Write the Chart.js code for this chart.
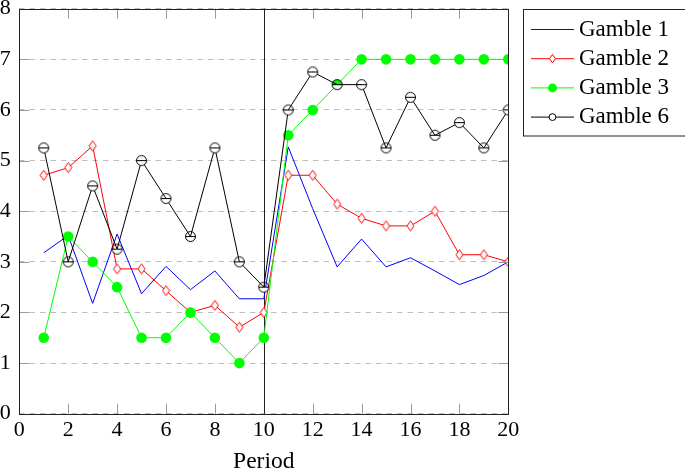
<!doctype html>
<html lang="en">
<head>
<meta charset="utf-8">
<title>Gambles by period</title>
<script src="https://cdn.jsdelivr.net/npm/chart.js@4.4.1/dist/chart.umd.min.js"></script>
<style>
  body { margin: 0; background: #fff; }
  #wrap { width: 685px; height: 470px; }
</style>
</head>
<body>
<div id="wrap"><canvas id="myChart" width="685" height="470"></canvas></div>
<script>
// periods on the x axis
const periods = [1, 2, 3, 4, 5, 6, 7, 8, 9, 10, 11, 12, 13, 14, 15, 16, 17, 18, 19, 20];

// series values
const gamble1 = [3.18, 3.52, 2.18, 3.55, 2.37, 2.91, 2.45, 2.82, 2.27, 2.27, 5.27, 4.05, 2.9, 3.45, 2.9, 3.08, 2.82, 2.55, 2.73, 3.0];
const gamble2 = [4.71, 4.86, 5.29, 2.86, 2.86, 2.43, 2.0, 2.14, 1.71, 2.0, 4.71, 4.71, 4.14, 3.86, 3.71, 3.71, 4.0, 3.14, 3.14, 3.0];
const gamble3 = [1.5, 3.5, 3.0, 2.5, 1.5, 1.5, 2.0, 1.5, 1.0, 1.5, 5.5, 6.0, 6.5, 7.0, 7.0, 7.0, 7.0, 7.0, 7.0, 7.0];
const gamble6 = [5.25, 3.0, 4.5, 3.25, 5.0, 4.25, 3.5, 5.25, 3.0, 2.5, 6.0, 6.75, 6.5, 6.5, 5.25, 6.25, 5.5, 5.75, 5.25, 6.0];

const seriesNames = ['Gamble 1', 'Gamble 2', 'Gamble 3', 'Gamble 6'];
const seriesColors = ['#0000ff', '#ff0000', '#00ff00', '#000000'];
const xTicks = [0, 2, 4, 6, 8, 10, 12, 14, 16, 18, 20];
const yTicks = [0, 1, 2, 3, 4, 5, 6, 7, 8];
const splitPeriod = 10;

const serif = "'Liberation Serif', 'DejaVu Serif', serif";

const toPoints = (vals) => vals.map((v, i) => ({ x: periods[i], y: v }));

// marker shapes
const drawMark = (ctx, kind, x, y, s) => {
  ctx.save();
  ctx.lineWidth = 1;
  if (kind === 'diamond') {
    ctx.beginPath();
    ctx.moveTo(x, y - 5 * s);
    ctx.lineTo(x + 3.5 * s, y);
    ctx.lineTo(x, y + 5 * s);
    ctx.lineTo(x - 3.5 * s, y);
    ctx.closePath();
    ctx.fillStyle = '#fff';
    ctx.fill();
    ctx.strokeStyle = '#ff0000';
    ctx.stroke();
  } else if (kind === 'dot') {
    ctx.beginPath();
    ctx.arc(x, y, 5.3 * s, 0, Math.PI * 2);
    ctx.fillStyle = '#00ff00';
    ctx.fill();
  } else if (kind === 'half') {
    const r = 5 * s;
    ctx.beginPath();
    ctx.arc(x, y, r, 0, Math.PI);
    ctx.closePath();
    ctx.fillStyle = '#fff';
    ctx.fill();
    ctx.beginPath();
    ctx.arc(x, y, r, 0, Math.PI * 2);
    ctx.moveTo(x - r, y);
    ctx.lineTo(x + r, y);
    ctx.strokeStyle = '#000';
    ctx.stroke();
  } else if (kind === 'circle') {
    ctx.beginPath();
    ctx.arc(x, y, 4 * s, 0, Math.PI * 2);
    ctx.fillStyle = '#fff';
    ctx.fill();
    ctx.strokeStyle = '#000';
    ctx.stroke();
  }
  ctx.restore();
};

const markImage = (kind, w, h) => {
  const c = document.createElement('canvas');
  c.width = w; c.height = h;
  drawMark(c.getContext('2d'), kind, w / 2, h / 2, 1);
  return c;
};

const diamondImg = markImage('diamond', 9, 13);
const halfImg = markImage('half', 13, 13);

// legend with a frame, drawn on the right
const legendKinds = [null, 'diamond', 'dot', 'circle'];
const boxLegend = {
  id: 'boxLegend',
  afterDraw(chart) {
    const ctx = chart.ctx;
    ctx.save();
    ctx.lineWidth = 1;
    ctx.strokeStyle = '#222';
    ctx.strokeRect(523.5, 9.5, 170, 126.5);
    chart.data.datasets.forEach((ds, i) => {
      const ly = 29.5 + i * 29.2;
      ctx.strokeStyle = seriesColors[i];
      ctx.beginPath();
      ctx.moveTo(531, ly);
      ctx.lineTo(574, ly);
      ctx.stroke();
      if (legendKinds[i]) drawMark(ctx, legendKinds[i], 552.5, ly, 0.85);
      ctx.fillStyle = '#000';
      ctx.font = '23px ' + serif;
      ctx.textBaseline = 'alphabetic';
      ctx.textAlign = 'left';
      ctx.fillText(ds.label, 579, ly + 6);
    });
    ctx.restore();
  }
};

// vertical line at the regime change, under the data
const splitLine = {
  id: 'splitLine',
  beforeDatasetsDraw(chart) {
    const { ctx, chartArea, scales } = chart;
    const px = Math.round(scales.x.getPixelForValue(splitPeriod)) + 0.5;
    ctx.save();
    ctx.strokeStyle = '#222';
    ctx.lineWidth = 1;
    ctx.beginPath();
    ctx.moveTo(px, chartArea.top);
    ctx.lineTo(px, chartArea.bottom);
    ctx.stroke();
    ctx.restore();
  }
};

// frame and inward tick marks, on top of the data
const frameTicks = {
  id: 'frameTicks',
  afterDatasetsDraw(chart) {
    const { ctx, chartArea: a, scales } = chart;
    ctx.save();
    ctx.lineWidth = 1;
    ctx.strokeStyle = '#9a9a9a';
    ctx.beginPath();
    xTicks.forEach(v => {
      if (v === splitPeriod) return;
      const px = Math.round(scales.x.getPixelForValue(v)) + 0.5;
      ctx.moveTo(px, a.bottom); ctx.lineTo(px, a.bottom - 10);
      ctx.moveTo(px, a.top); ctx.lineTo(px, a.top + 10);
    });
    yTicks.forEach(v => {
      const py = Math.round(scales.y.getPixelForValue(v)) + 0.5;
      ctx.moveTo(a.left, py); ctx.lineTo(a.left + 10, py);
      ctx.moveTo(a.right, py); ctx.lineTo(a.right - 10, py);
    });
    ctx.stroke();
    ctx.strokeStyle = '#222';
    ctx.strokeRect(Math.round(a.left) + 0.5, Math.round(a.top) + 0.5,
      Math.round(a.right) - Math.round(a.left), Math.round(a.bottom) - Math.round(a.top));
    ctx.restore();
  }
};

new Chart(document.getElementById('myChart'), {
  type: 'line',
  data: {
    datasets: [
      {
        label: seriesNames[0], data: toPoints(gamble1), order: 4,
        borderColor: seriesColors[0], borderWidth: 1, pointRadius: 0
      },
      {
        label: seriesNames[1], data: toPoints(gamble2), order: 3,
        borderColor: seriesColors[1], borderWidth: 1, pointStyle: diamondImg
      },
      {
        label: seriesNames[2], data: toPoints(gamble3), order: 2,
        borderColor: seriesColors[2], borderWidth: 1, pointStyle: 'circle',
        pointRadius: 5.3, pointBackgroundColor: seriesColors[2], pointBorderWidth: 0
      },
      {
        label: seriesNames[3], data: toPoints(gamble6), order: 1,
        borderColor: seriesColors[3], borderWidth: 1, pointStyle: halfImg
      }
    ]
  },
  options: {
    responsive: false,
    animation: false,
    events: [],
    layout: { padding: { top: 8.7, right: 176.7, bottom: 0, left: 0 } },
    plugins: { legend: { display: false }, tooltip: { enabled: false } },
    scales: {
      x: {
        type: 'linear', min: 0, max: 20,
        grid: { display: false, drawTicks: false },
        border: { display: false },
        ticks: { stepSize: 2, color: '#000', padding: 3.5, font: { family: serif, size: 22 } },
        title: {
          display: true, text: 'Period', color: '#000', padding: 0,
          font: { family: serif, size: 23.5, lineHeight: 0.68 }
        },
        afterFit(scale) { scale.height = 56.3; scale.paddingLeft = 0; scale.paddingRight = 0; }
      },
      y: {
        min: 0, max: 8,
        grid: { color: '#bdbdbd', drawTicks: false },
        border: { display: false, dash: [5.5, 5] },
        ticks: { stepSize: 1, color: '#000', padding: 8.5, font: { family: serif, size: 22 } },
        afterFit(scale) { scale.width = 19.3; scale.paddingTop = 0; scale.paddingBottom = 0; }
      }
    }
  },
  plugins: [splitLine, frameTicks, boxLegend]
});
</script>
</body>
</html>
